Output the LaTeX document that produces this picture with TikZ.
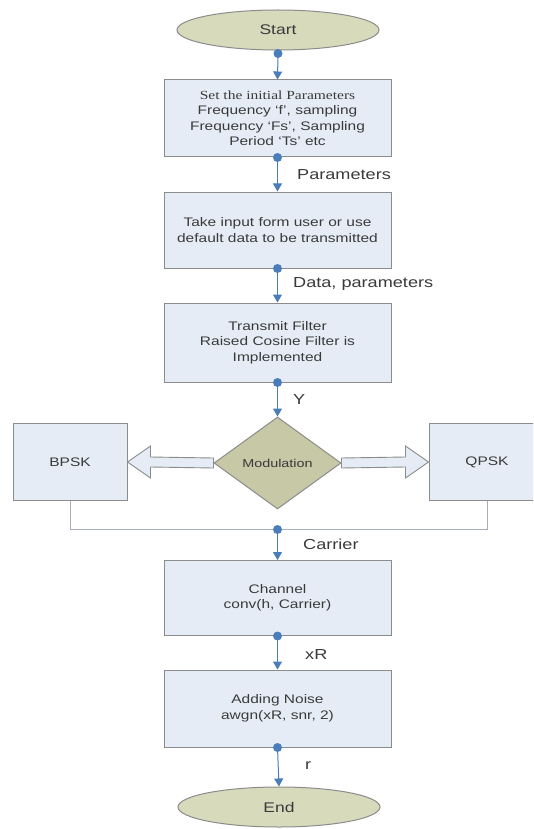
\documentclass[tikz,border=0pt]{standalone}
\usepackage{fontspec}
\setmainfont{Liberation Sans}[FakeStretch=1.25]
\newfontfamily\titleserif{Liberation Serif}[FakeStretch=1.25]
\usetikzlibrary{shapes.geometric,arrows.meta,calc}

\definecolor{boxfill}{HTML}{E6ECF6}
\definecolor{boxline}{HTML}{8C8C8C}
\definecolor{termfill}{HTML}{D8DABC}
\definecolor{decfill}{HTML}{C6C8A6}
\definecolor{flowblue}{HTML}{4A7EBB}
\definecolor{ink}{HTML}{3A3A3A}
\definecolor{busline}{HTML}{A8AEB8}

\tikzset{
  stepbox/.style={draw=boxline, fill=boxfill, line width=1pt, minimum width=227,
    inner sep=0pt, align=center, text=ink,
    font=\fontsize{12.4}{15.5}\selectfont},
  terminal/.style={ellipse, draw=boxline, fill=termfill, line width=1pt,
    minimum width=202, minimum height=40, inner sep=0pt, text=ink,
    font=\fontsize{14}{16}\selectfont},
  decision/.style={diamond, draw=boxline, fill=decfill, line width=1pt,
    minimum width=127, minimum height=92, aspect=1.38, inner sep=0pt, text=ink,
    font=\fontsize{11.5}{14}\selectfont},
  flow/.style={draw=flowblue, line width=1pt, -{Triangle[width=9pt,length=8pt]}},
  flowdot/.style={fill=flowblue},
  flowlabel/.style={anchor=west, inner sep=0pt, text=ink,
    font=\fontsize{14.5}{16}\selectfont},
  hollow/.style={draw=boxline, fill=boxfill, line width=0.9pt, line join=miter},
  bus/.style={draw=busline, line width=1pt}
}

\begin{document}
\begin{tikzpicture}[x=1pt, y=-1pt]
  \fill[white] (0,0) rectangle (533,829);
  \clip (0,0) rectangle (533,829);

  % main column
  \node[terminal] (start) at (278,30) {Start};
  \node[stepbox, minimum height=77] (init) at (277.5,118.5)
    {{\titleserif Set the initial Parameters}\\Frequency `f', sampling\\Frequency `Fs', Sampling\\Period `Ts' etc};
  \node[stepbox, minimum height=76] (input) at (277.5,230)
    {Take input form user or use\\default data to be transmitted};
  \node[stepbox, minimum height=79] (filter) at (277.5,342.5)
    {Transmit Filter\\Raised Cosine Filter is\\Implemented};
  \node[decision] (mod) at (277.5,463) {Modulation};
  \node[stepbox, minimum width=114, minimum height=77] (bpsk) at (70,462) {BPSK};
  \node[stepbox, minimum width=116, minimum height=77] (qpsk) at (487,462) {QPSK};
  \node[stepbox, minimum height=75] (chan) at (277.5,598)
    {Channel\\conv(h, Carrier)};
  \node[stepbox, minimum height=77] (noise) at (277.5,708.5)
    {Adding Noise\\awgn(xR, snr, 2)};
  \node[terminal] (finish) at (279,807) {End};

  % junction where both modulator outputs meet
  \coordinate (join) at ($(mod.south)+(0,20)$);

  % hollow double arrows from the decision to both modulators
  \draw[hollow] ($(mod.west)+(0,-5)$) -- ($(bpsk.east)+(23,-5)$) -- ($(bpsk.east)+(23,-16)$)
    -- (bpsk.east) -- ($(bpsk.east)+(23,16)$) -- ($(bpsk.east)+(23,5)$)
    -- ($(mod.west)+(0,5)$) -- cycle;
  \draw[hollow] ($(mod.east)+(0,-5)$) -- ($(qpsk.west)+(-23,-5)$) -- ($(qpsk.west)+(-23,-16)$)
    -- (qpsk.west) -- ($(qpsk.west)+(-23,16)$) -- ($(qpsk.west)+(-23,5)$)
    -- ($(mod.east)+(0,5)$) -- cycle;

  % collector line under the modulators
  \draw[bus] (bpsk.south) |- (join) -| (qpsk.south);

  % flow connectors
  \draw[flow] ($(start.south)+(0,3)$) -- (init.north);
  \draw[flow] (init.south) -- (input.north);
  \draw[flow] (input.south) -- (filter.north);
  \draw[flow] (filter.south) -- (mod.north);
  \draw[flow] (join) -- (chan.north);
  \draw[flow] (chan.south) -- (noise.north);
  \draw[flow] (noise.south) -- (finish.north);

  % source dots
  \fill[flowdot] ($(start.south)+(0,3)$) circle (4.5);
  \fill[flowdot] (init.south) circle (4.5);
  \fill[flowdot] (input.south) circle (4.5);
  \fill[flowdot] (filter.south) circle (4.5);
  \fill[flowdot] (join) circle (4.5);
  \fill[flowdot] (chan.south) circle (4.5);
  \fill[flowdot] (noise.south) circle (4.5);

  % connector labels
  \node[flowlabel] (lparam) at (297,175) {Parameters};
  \node[flowlabel] (ldata) at (293,284) {Data, parameters};
  \node[flowlabel] (ly) at (293,400) {Y};
  \node[flowlabel] (lcarrier) at (303,544) {Carrier};
  \node[flowlabel] (lxr) at (305,655) {xR};
  \node[flowlabel] (lr) at (305,766) {r};
\end{tikzpicture}
\end{document}
